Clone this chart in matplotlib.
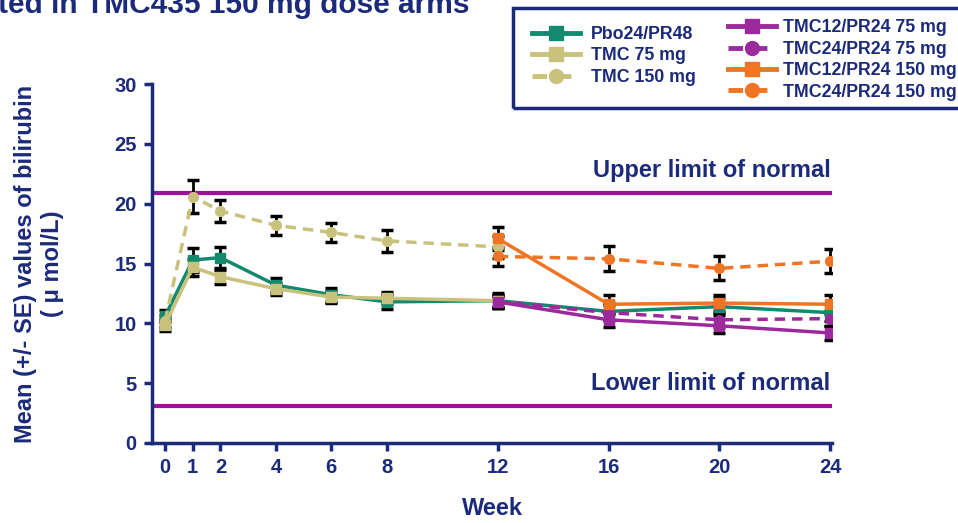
import matplotlib
matplotlib.use("Agg")
import matplotlib.pyplot as plt
from matplotlib.patches import Rectangle
from matplotlib.lines import Line2D

plt.rcParams['font.family'] = ['Liberation Sans', 'DejaVu Sans']
plt.rcParams['font.weight'] = 'bold'

NAVY = '#1b2a7a'
LIMIT = '#a0109c'
GREEN = '#138a6e'
KHAKI = '#c9c27c'
PURPLE = '#9c2a9c'
ORANGE = '#ef7424'

week_ticks = [0, 1, 2, 4, 6, 8, 12, 16, 20, 24]

# series: weeks, means, SE
pbo_w = [0, 1, 2, 4, 6, 8, 12, 16, 20, 24]
pbo_m = [10.6, 15.3, 15.5, 13.2, 12.4, 11.8, 11.9, 11.0, 11.4, 10.9]
pbo_e = [0.5, 1.0, 0.9, 0.6, 0.6, 0.6, 0.6, 0.7, 0.7, 0.7]

t75_w = [0, 1, 2, 4, 6, 8, 12]
t75_m = [9.9, 14.7, 13.9, 12.9, 12.2, 12.1, 11.9]
t75_e = [0.5, 0.7, 0.6, 0.5, 0.5, 0.5, 0.5]

t150_w = [0, 1, 2, 4, 6, 8, 12]
t150_m = [10.2, 20.6, 19.4, 18.2, 17.6, 16.9, 16.4]
t150_e = [0.5, 1.4, 0.9, 0.8, 0.8, 0.9, 0.9]

p1275_w = [12, 16, 20, 24]
p1275_m = [11.8, 10.3, 9.8, 9.2]
p1275_e = [0.5, 0.6, 0.6, 0.6]

p2475_w = [12, 16, 20, 24]
p2475_m = [11.8, 10.9, 10.3, 10.4]
p2475_e = [0.5, 0.6, 0.6, 0.6]

p12150_w = [12, 16, 20, 24]
p12150_m = [17.1, 11.6, 11.7, 11.6]
p12150_e = [1.0, 0.8, 0.7, 0.8]

p24150_w = [12, 16, 20, 24]
p24150_m = [15.6, 15.4, 14.6, 15.2]
p24150_e = [0.8, 1.05, 1.0, 1.0]

upper_limit = 20.9
lower_limit = 3.1

fig = plt.figure(figsize=(9.58, 5.23), dpi=100)
ax = fig.add_axes([0.1587, 0.153, 0.71, 0.686])

series = [
    (pbo_w, pbo_m, pbo_e, GREEN, '-', 's', 'Pbo24/PR48'),
    (t75_w, t75_m, t75_e, KHAKI, '-', 's', 'TMC 75 mg'),
    (t150_w, t150_m, t150_e, KHAKI, (0, (3, 2)), 'o', 'TMC 150 mg'),
    (p1275_w, p1275_m, p1275_e, PURPLE, '-', 's', 'TMC12/PR24 75 mg'),
    (p2475_w, p2475_m, p2475_e, PURPLE, (0, (3, 2)), 'o', 'TMC24/PR24 75 mg'),
    (p12150_w, p12150_m, p12150_e, ORANGE, '-', 's', 'TMC12/PR24 150 mg'),
    (p24150_w, p24150_m, p24150_e, ORANGE, (0, (3, 2)), 'o', 'TMC24/PR24 150 mg'),
]

ax.axhline(upper_limit, color=LIMIT, lw=3, zorder=1)
ax.axhline(lower_limit, color=LIMIT, lw=3, zorder=1)

for w, m, e, c, ls, mk, lab in series:
    ax.errorbar(w, m, yerr=e, fmt='none', ecolor='black', elinewidth=2,
                capsize=4, capthick=2.5, zorder=2)
    ax.plot(w, m, color=c, ls=ls, lw=2.5, marker=mk, ms=7, mec=c, mfc=c,
            zorder=3)

ax.text(24.0, upper_limit + 0.9, 'Upper limit of normal', color=NAVY,
        fontsize=17, fontweight='bold', ha='right', va='bottom')
ax.text(24.0, lower_limit + 0.9, 'Lower limit of normal', color=NAVY,
        fontsize=17, fontweight='bold', ha='right', va='bottom')

ax.set_xlim(-0.47, 24.07)
ax.set_ylim(0, 30)
ax.set_xticks(week_ticks)
ax.set_yticks(range(0, 31, 5))
for s in ['top', 'right']:
    ax.spines[s].set_visible(False)
for s in ['left', 'bottom']:
    ax.spines[s].set_color(NAVY)
    ax.spines[s].set_linewidth(2.5)
ax.tick_params(colors=NAVY, width=2.5, length=6, labelsize=14.5, pad=5)
for lbl in ax.get_xticklabels() + ax.get_yticklabels():
    lbl.set_fontweight('bold')
    lbl.set_color(NAVY)

ax.set_xlabel('Week', color=NAVY, fontsize=17, fontweight='bold', labelpad=14)
ax.set_ylabel('Mean (+/- SE) values of bilirubin\n( \u03bc mol/L)', color=NAVY,
              fontsize=17, fontweight='bold', labelpad=36, linespacing=1.25)

fig.text(0.49, 0.9757, 'ted in TMC435 150 mg dose arms', color=NAVY,
         fontsize=21.5, fontweight='bold', ha='right', va='baseline')

# legend box
fig.patches.append(Rectangle((513 / 958, 1 - 108 / 523), 460 / 958, 100 / 523,
                             transform=fig.transFigure, fill=False,
                             edgecolor=NAVY, lw=2.5, clip_on=False))

def handle(c, ls, mk):
    return Line2D([], [], color=c, ls=ls, lw=3.5, marker=mk, ms=10, mec=c, mfc=c)

h1 = [handle(c, ls, mk) for (_, _, _, c, ls, mk, _) in series[:3]]
l1 = [s[6] for s in series[:3]]
h2 = [handle(c, ls, mk) for (_, _, _, c, ls, mk, _) in series[3:]]
l2 = [s[6] for s in series[3:]]

leg1 = fig.legend(h1, l1, loc='center left', bbox_to_anchor=(0.546, 1 - 56 / 523),
                  frameon=False, fontsize=12.8, handlelength=2.7,
                  labelspacing=0.25, handletextpad=0.6, borderpad=0)
leg2 = fig.legend(h2, l2, loc='center left', bbox_to_anchor=(0.751, 1 - 60 / 523),
                  frameon=False, fontsize=12.8, handlelength=2.7,
                  labelspacing=0.25, handletextpad=0.4, borderpad=0)
for leg in (leg1, leg2):
    for t in leg.get_texts():
        t.set_color(NAVY)
        t.set_fontweight('bold')

fig.savefig('out.png', dpi=100)
